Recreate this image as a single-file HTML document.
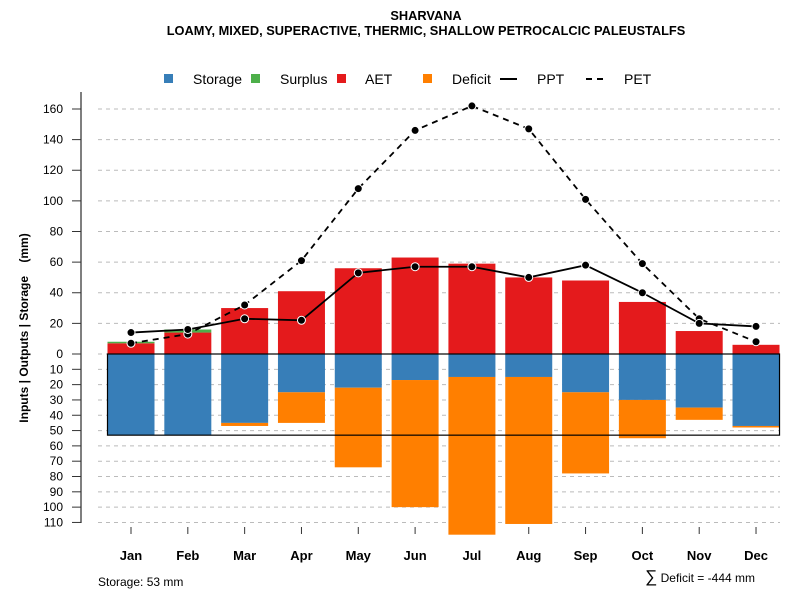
<!DOCTYPE html>
<html><head><meta charset="utf-8"><style>body{margin:0;background:#fff}svg{display:block;font-family:"Liberation Sans",sans-serif}</style></head>
<body>
<svg id="chart" width="800" height="600" viewBox="0 0 800 600">
<text x="426" y="20" text-anchor="middle" font-size="12.8" font-weight="bold">SHARVANA</text>
<text x="426" y="35" text-anchor="middle" font-size="12.8" font-weight="bold">LOAMY, MIXED, SUPERACTIVE, THERMIC, SHALLOW PETROCALCIC PALEUSTALFS</text>
<g id="legend" font-size="14">
<rect x="164" y="74" width="9" height="9" fill="#377eb8"/><text x="193" y="84">Storage</text>
<rect x="251" y="74" width="9" height="9" fill="#4daf4a"/><text x="280" y="84">Surplus</text>
<rect x="337" y="74" width="9" height="9" fill="#e41a1c"/><text x="365" y="84">AET</text>
<rect x="423" y="74" width="9" height="9" fill="#ff7f00"/><text x="452" y="84">Deficit</text>
<line x1="500" y1="79" x2="517" y2="79" stroke="#000" stroke-width="2"/><text x="537" y="84">PPT</text>
<line x1="586" y1="79" x2="608" y2="79" stroke="#000" stroke-width="2" stroke-dasharray="6,5"/><text x="624" y="84">PET</text>
</g>
<text transform="translate(28,328) rotate(-90)" text-anchor="middle" font-size="12" font-weight="bold" xml:space="preserve">Inputs | Outputs | Storage    (mm)</text>
<text x="98" y="586" font-size="12">Storage: 53 mm</text>
<text x="755" y="582" text-anchor="end" font-size="12"><tspan font-size="17">∑</tspan> Deficit = -444 mm</text>
<g id="plot"></g>
</svg>
<script>
const months=["Jan","Feb","Mar","Apr","May","Jun","Jul","Aug","Sep","Oct","Nov","Dec"];
const storage=[53,53,45,25,22,17,15,15,25,30,35,47];
const deficit=[0,0,2,20,52,83,103,96,53,25,8,1];
const aet=[7,14,30,41,56,63,59,50,48,34,15,6];
const surplus=[1,2,0,0,0,0,0,0,0,0,0,0];
const ppt=[14,16,23,22,53,57,57,50,58,40,20,18];
const pet=[7,13,32,61,108,146,162,147,101,59,23,8];
const posTicks=[0,20,40,60,80,100,120,140,160];
const negTicks=[10,20,30,40,50,60,70,80,90,100,110];
const capacity=53;
const NS="http://www.w3.org/2000/svg";
const g=document.getElementById('plot');
const y0=354,k=1.5313;
const yP=v=>y0-v*k, yN=v=>y0+v*k;
const xC=i=>131+i*56.82;
const bw=47;
function mk(t,a,p){const e=document.createElementNS(NS,t);for(const n in a)e.setAttribute(n,a[n]);(p||g).appendChild(e);return e;}
mk('line',{x1:81,y1:92,x2:81,y2:523,stroke:'#555','stroke-width':1.5});
posTicks.forEach(v=>{const y=yP(v);
 const l=mk('line',{x1:98,y1:y,x2:780,y2:y,stroke:'#bbb','stroke-dasharray':'4,4'});
 
 
 mk('line',{x1:72,y1:y,x2:81,y2:y,stroke:'#333'});
 const t=mk('text',{x:63,y:y+4,'text-anchor':'end','font-size':12});t.textContent=v;
 
 });
negTicks.forEach(v=>{const y=yN(v);
 const l=mk('line',{x1:98,y1:y,x2:780,y2:y,stroke:'#bbb','stroke-dasharray':'4,4'});
 
 
 mk('line',{x1:72,y1:y,x2:81,y2:y,stroke:'#333'});
 const t=mk('text',{x:63,y:y+4,'text-anchor':'end','font-size':12});t.textContent=v;
 
 });
months.forEach((m,i)=>{const x=xC(i);
 mk('line',{x1:x,y1:527,x2:x,y2:534,stroke:'#333'});
 const t=mk('text',{x:x,y:560,'text-anchor':'middle','font-size':13,'font-weight':'bold'});t.textContent=m;
 
 
 const x1=x-bw/2;
 let r=mk('rect',{x:x1,y:y0,width:bw,height:storage[i]*k,fill:'#377eb8'});
 
 
 r=mk('rect',{x:x1,y:yN(storage[i]),width:bw,height:deficit[i]*k,fill:'#ff7f00'});
 
 
 r=mk('rect',{x:x1,y:yP(aet[i]),width:bw,height:aet[i]*k,fill:'#e41a1c'});
 
 
 r=mk('rect',{x:x1,y:yP(aet[i]+surplus[i]),width:bw,height:surplus[i]*k,fill:'#4daf4a'});
 
 
});
const bx=mk('rect',{x:xC(0)-bw/2,y:y0,width:xC(11)+bw/2-(xC(0)-bw/2),height:capacity*k,fill:'none',stroke:'#000','stroke-width':1.2});


function line(arr,name,dash){
 const p=mk('polyline',{points:arr.map((v,i)=>xC(i)+','+yP(v)).join(' '),fill:'none',stroke:'#000','stroke-width':1.8});
 if(dash)p.setAttribute('stroke-dasharray','6,5');
 
 
 arr.forEach((v,i)=>{const c=mk('circle',{cx:xC(i),cy:yP(v),r:4,fill:'#000',stroke:'#fff','stroke-width':1});
  
  });
}
line(pet,'pet',true);
line(ppt,'ppt',false);
</script>
</body></html>
